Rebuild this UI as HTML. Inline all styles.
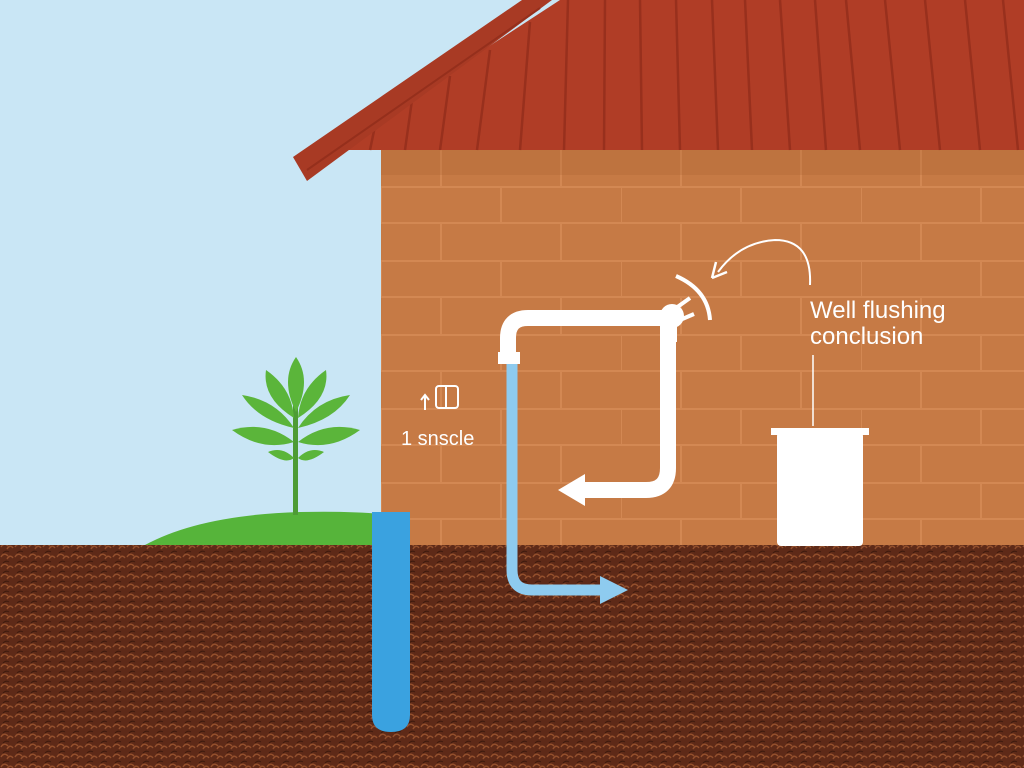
<!DOCTYPE html>
<html><head><meta charset="utf-8"><style>html,body{margin:0;padding:0;background:#c9e6f5}svg{display:block}</style></head><body>
<svg width="1024" height="768" viewBox="0 0 1024 768" xmlns="http://www.w3.org/2000/svg" font-family="Liberation Sans, sans-serif">
<defs>
<pattern id="soil" width="14" height="10" patternUnits="userSpaceOnUse">
<rect width="14" height="10" fill="#5e2a18"/>
<path d="M1 7 Q4 2 8 6 M7 9 Q10 4 13 8" stroke="#94502d" stroke-width="1.4" fill="none"/>
<path d="M3 3 Q6 0 9 2" stroke="#3e1a0e" stroke-width="1" fill="none"/>
</pattern>
<pattern id="brick" x="381" y="150" width="240" height="74" patternUnits="userSpaceOnUse">
<rect width="240" height="74" fill="#c67a45"/>
<g stroke="#d38853" stroke-width="2" fill="none">
<path d="M0 37 H240 M0 73 H240"/>
<path d="M60 0 V37 M180 0 V37 M0 37 V74 M120 37 V74"/>
</g>
</pattern>
</defs>
<rect width="1024" height="768" fill="#c9e6f5"/>
<!-- hill -->
<path d="M145 545 Q200 515 300 512 Q350 511 381 514 V545Z" fill="#56b43a"/>
<!-- wall -->
<rect x="381" y="150" width="643" height="400" fill="url(#brick)"/>
<rect x="381" y="150" width="643" height="25" fill="#a9602f" opacity="0.25"/>
<!-- roof -->
<polygon points="330,150 560,0 1024,0 1024,150" fill="#b03d26"/>
<g stroke="#98301d" stroke-width="2.5">
<line x1="370" y1="150" x2="375" y2="126"/><line x1="405" y1="150" x2="412" y2="100"/><line x1="440" y1="150" x2="450" y2="76"/><line x1="477" y1="150" x2="490" y2="50"/><line x1="520" y1="150" x2="530" y2="22"/>
<line x1="564" y1="150" x2="568" y2="0"/><line x1="604" y1="150" x2="605" y2="0"/><line x1="642" y1="150" x2="640" y2="0"/><line x1="680" y1="150" x2="676" y2="0"/><line x1="718" y1="150" x2="712" y2="0"/><line x1="752" y1="150" x2="745" y2="0"/><line x1="790" y1="150" x2="780" y2="0"/><line x1="826" y1="150" x2="815" y2="0"/><line x1="860" y1="150" x2="846" y2="0"/><line x1="900" y1="150" x2="885" y2="0"/><line x1="940" y1="150" x2="925" y2="0"/><line x1="980" y1="150" x2="965" y2="0"/><line x1="1018" y1="150" x2="1003" y2="0"/>
</g>
<polygon points="293,157 522,0 552,0 307,181" fill="#a83a24"/>
<line x1="307" y1="170" x2="540" y2="8" stroke="#952f1c" stroke-width="2"/>
<!-- ground -->
<rect x="0" y="545" width="1024" height="223" fill="url(#soil)"/>
<!-- plant -->
<g fill="#5bb53a">
<rect x="293" y="400" width="5" height="115" fill="#4e9c35"/>
<path d="M296 357 Q280 380 296 412 Q312 380 296 357Z"/>
<path d="M266 370 Q262 398 294 418 Q292 388 266 370Z"/>
<path d="M326 370 Q330 398 298 418 Q300 388 326 370Z"/>
<path d="M242 395 Q258 420 294 428 Q276 400 242 395Z"/>
<path d="M350 395 Q334 420 298 428 Q316 400 350 395Z"/>
<path d="M232 430 Q262 452 294 442 Q266 420 232 430Z"/>
<path d="M360 430 Q330 452 298 442 Q326 420 360 430Z"/>
<path d="M268 452 Q285 465 294 458 Q282 446 268 452Z"/>
<path d="M324 452 Q307 465 298 458 Q310 446 324 452Z"/>
</g>
<!-- well -->
<path d="M372 512 H410 V715 Q410 732 391 732 Q372 732 372 715Z" fill="#3aa2e0"/>
<!-- light blue pipe -->
<path d="M512 362 V570 Q512 590 532 590 H605" stroke="#8ecbef" stroke-width="11" fill="none"/>
<polygon points="600,576 628,590 600,604" fill="#8ecbef"/>
<!-- white pipe -->
<path d="M508 362 V338 Q508 318 528 318 H668 V468 Q668 490 646 490 H582" stroke="#fff" stroke-width="16" fill="none"/>
<polygon points="585,474 558,490 585,506" fill="#fff"/>
<rect x="498" y="352" width="22" height="12" fill="#fff"/>
<rect x="660" y="322" width="17" height="20" fill="#fff"/>
<circle cx="672" cy="316" r="12" fill="#fff"/>
<path d="M676 308 L690 298 M680 320 L694 314" stroke="#fff" stroke-width="4"/>
<path d="M676 276 Q708 290 710 320" stroke="#fff" stroke-width="4" fill="none"/>
<!-- curved arrow -->
<path d="M810 285 Q812 240 775 240 Q740 242 718 272" stroke="#fff" stroke-width="2" fill="none"/>
<path d="M712 278 L716 262 M712 278 L727 272" stroke="#fff" stroke-width="2.5"/>
<!-- text -->
<text x="810" y="318" fill="#fff" font-size="24">Well flushing</text>
<text x="810" y="344" fill="#fff" font-size="24">conclusion</text>
<line x1="813" y1="355" x2="813" y2="426" stroke="#fff" stroke-width="1.5"/>
<!-- tank -->
<rect x="771" y="428" width="98" height="7" fill="#fff"/>
<rect x="777" y="432" width="86" height="114" rx="4" fill="#fff"/>
<!-- small icon -->
<g stroke="#fff" stroke-width="2" fill="none">
<line x1="425" y1="410" x2="425" y2="396"/><path d="M421 400 L425 395 L429 400"/>
<rect x="436" y="386" width="22" height="22" rx="3"/>
<line x1="446" y1="387" x2="446" y2="407"/>
</g>
<text x="401" y="445" fill="#fff" font-size="20">1 snscle</text>
</svg>
</body></html>
